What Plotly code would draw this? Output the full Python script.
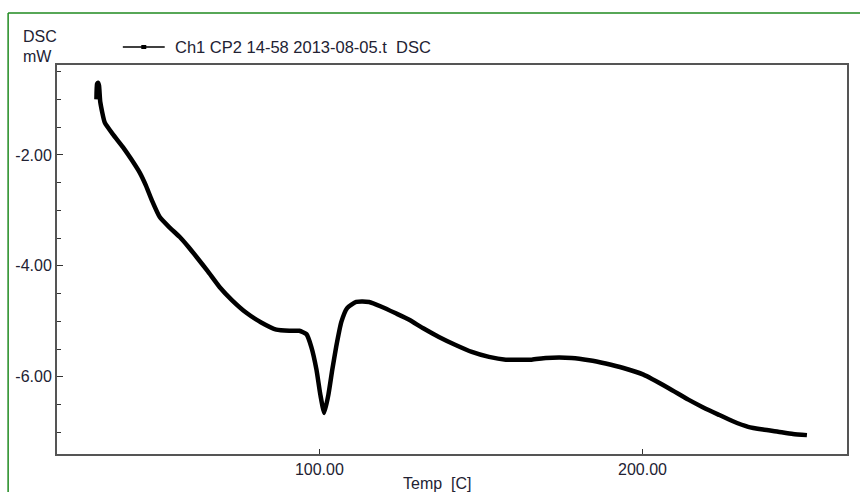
import plotly.graph_objects as go

temp_c = [31.0, 31.2, 31.5, 31.8, 32.2, 33.6, 36.0, 39.2, 41.8, 44.4, 46.3, 48.1, 50.6, 53.5,
          56.8, 59.5, 62.0, 65.5, 69.1, 73.0, 77.5, 82.0, 86.7, 90.7, 93.8, 96.0, 97.5,
          99.1, 100.3, 101.5, 102.8, 104.0, 105.2, 106.8, 108.6, 111.4, 115.4, 119.4, 123.5,
          127.8, 132.0, 137.0, 142.0, 147.2, 152.5, 157.7, 165.7, 170.1, 178.1, 183.5,
          188.6, 194.1, 200.3, 208.0, 214.2, 218.8, 223.5, 228.0, 232.7, 237.3, 242.0,
          246.6, 250.9]
dsc_mw = [-1.00, -0.72, -0.70, -0.75, -1.05, -1.42, -1.62, -1.86, -2.08, -2.32, -2.55, -2.81, -3.12, -3.30,
          -3.48, -3.66, -3.84, -4.10, -4.38, -4.62, -4.85, -5.02, -5.15, -5.17, -5.17, -5.23, -5.46,
          -5.87, -6.32, -6.65, -6.32, -5.87, -5.46, -5.01, -4.76, -4.65, -4.65, -4.74, -4.85,
          -4.97, -5.12, -5.28, -5.42, -5.55, -5.64, -5.69, -5.69, -5.66, -5.66, -5.70,
          -5.76, -5.84, -5.96, -6.20, -6.41, -6.55, -6.68, -6.80, -6.90, -6.95, -6.99,
          -7.03, -7.05]

x_ticks = [100, 200]
x_tick_text = ["100.00", "200.00"]
y_ticks = [-2, -4, -6]
y_tick_text = ["-2.00", "-4.00", "-6.00"]
legend_name = "Ch1 CP2 14-58 2013-08-05.t  DSC"

L, R, T, B = 57, 11, 65, 38
W, H = 860, 492
pw, ph = W - L - R, H - T - B


def px(x):
    return (x - L) / pw


def py(y):
    return (H - B - y) / ph


fig = go.Figure()
fig.add_trace(go.Scatter(x=temp_c, y=dsc_mw, mode="lines", name=legend_name,
                         line=dict(color="black", width=4.5, shape="spline", smoothing=0.5),
                         showlegend=False))

axis_common = dict(showline=True, linecolor="#555555", linewidth=2, mirror=True,
                   ticks="inside", tickcolor="#333333", showgrid=False, zeroline=False,
                   tickfont=dict(family="Liberation Sans, Arial", size=16, color="#222233"))

fig.update_xaxes(range=[18.8, 263.3], tickvals=x_ticks, ticktext=x_tick_text, ticklen=5,
                 **axis_common)
fig.update_yaxes(range=[-7.39, -0.38], tickvals=y_ticks, ticktext=y_tick_text, ticklen=6,
                 minor=dict(dtick=0.5, tick0=0, ticks="inside", ticklen=4, tickcolor="#333333"),
                 **axis_common)

# outer green frame
fig.add_shape(type="line", xref="paper", yref="paper", x0=px(8), x1=px(8), y0=py(13), y1=py(520),
              line=dict(color="#1f8a1f", width=1.5))
fig.add_shape(type="line", xref="paper", yref="paper", x0=px(8), x1=px(880), y0=py(13), y1=py(13),
              line=dict(color="#1f8a1f", width=1.5))

# legend sample
fig.add_shape(type="line", xref="paper", yref="paper", x0=px(123), x1=px(165), y0=py(47), y1=py(47),
              line=dict(color="black", width=1.5))
fig.add_shape(type="rect", xref="paper", yref="paper", x0=px(141.5), x1=px(146.5), y0=py(49), y1=py(45),
              line=dict(color="black", width=0), fillcolor="black")

font_txt = dict(family="Liberation Sans, Arial", size=16, color="#222233")
fig.add_annotation(text=legend_name, xref="paper", yref="paper", x=px(173), y=py(47.5),
                   xanchor="left", yanchor="middle", showarrow=False,
                   font=dict(family="Liberation Sans, Arial", size=16.5, color="#222233"))
fig.add_annotation(text="DSC", xref="paper", yref="paper", x=px(21), y=py(36.5),
                   xanchor="left", yanchor="middle", showarrow=False, font=font_txt)
fig.add_annotation(text="mW", xref="paper", yref="paper", x=px(21), y=py(56),
                   xanchor="left", yanchor="middle", showarrow=False, font=font_txt)
fig.add_annotation(text="Temp  [C]", xref="paper", yref="paper", x=px(438), y=py(483),
                   xanchor="center", yanchor="middle", showarrow=False, font=font_txt)

fig.update_layout(
    width=W, height=H,
    margin=dict(l=L, r=R, t=T, b=B),
    paper_bgcolor="white", plot_bgcolor="white",
    showlegend=False,
)

fig.write_html("out.html")
